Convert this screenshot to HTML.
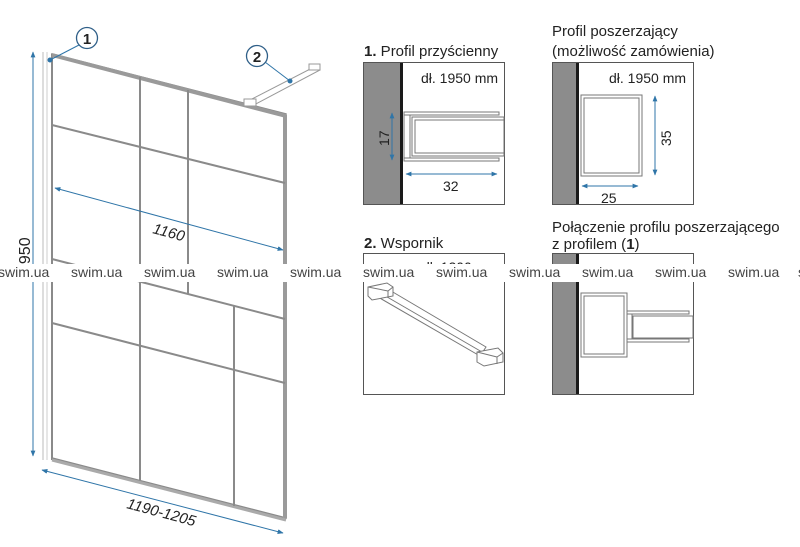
<!DOCTYPE html>
<html><head><meta charset="utf-8"><style>
html,body{margin:0;padding:0;background:#fff;}
svg{display:block;}
text{font-family:"Liberation Sans",sans-serif;}
</style></head><body>
<svg width="800" height="547" viewBox="0 0 800 547" xmlns="http://www.w3.org/2000/svg">
<defs>
<marker id="a" viewBox="0 0 10 10" refX="9" refY="5" markerWidth="6" markerHeight="6" orient="auto-start-reverse"><path d="M0,1 L10,5 L0,9 z" fill="#2f75a8"/></marker>
</defs>
<!-- main panel -->
<g fill="none" stroke="#8a8a8a">
<line x1="43" y1="52" x2="43" y2="460" stroke="#bbb" stroke-width="1"/>
<line x1="47" y1="52" x2="47" y2="460" stroke="#ccc" stroke-width="1"/>
<line x1="52" y1="54" x2="52" y2="460" stroke-width="2"/>
<polygon points="52,54 286,114 286,518 52,458" stroke-width="1.5"/>
<line x1="52" y1="55" x2="286" y2="116" stroke-width="4" stroke="#9a9a9a"/>
<line x1="285" y1="115" x2="285" y2="518" stroke-width="4" stroke="#9a9a9a"/>
<line x1="52" y1="460" x2="286" y2="520" stroke-width="3" stroke="#aaa"/>
<line x1="140" y1="77" x2="140" y2="480" stroke-width="2"/>
<line x1="188" y1="90" x2="188" y2="294" stroke-width="2"/>
<line x1="234" y1="306" x2="234" y2="506" stroke-width="2"/>
<line x1="52" y1="125" x2="285" y2="183" stroke-width="2"/>
<line x1="52" y1="259" x2="285" y2="319" stroke-width="2"/>
<line x1="52" y1="323" x2="285" y2="383" stroke-width="2"/>
<!-- bracket -->
<polygon points="248,101 316,66 320,70 252,106" stroke="#999" fill="#fff"/>
<rect x="244" y="99" width="12" height="7" stroke="#999" fill="#fff"/>
<rect x="309" y="64" width="11" height="6" stroke="#999" fill="#fff"/>
</g>
<!-- dimensions -->
<g stroke="#2f75a8" stroke-width="1" fill="none">
<line x1="33" y1="52" x2="33" y2="456" marker-start="url(#a)" marker-end="url(#a)"/>
<line x1="55" y1="188" x2="283" y2="250" marker-start="url(#a)" marker-end="url(#a)"/>
<line x1="42" y1="470" x2="283" y2="533" marker-start="url(#a)" marker-end="url(#a)"/>
<line x1="79" y1="45" x2="50" y2="60"/>
<line x1="265" y1="62" x2="290" y2="81"/>
</g>
<circle cx="50" cy="60" r="2.5" fill="#2f75a8"/>
<circle cx="290" cy="81" r="2.5" fill="#2f75a8"/>
<circle cx="87" cy="38" r="10.5" fill="#fff" stroke="#2f5f88" stroke-width="1.3"/>
<circle cx="257" cy="56" r="10.5" fill="#fff" stroke="#2f5f88" stroke-width="1.3"/>
<text x="87" y="44" font-size="15" font-weight="bold" text-anchor="middle" fill="#222">1</text>
<text x="257" y="62" font-size="15" font-weight="bold" text-anchor="middle" fill="#222">2</text>
<text x="0" y="0" font-size="15" font-style="italic" fill="#222" transform="translate(152,233) rotate(15)">1160</text>
<text x="0" y="0" font-size="15" font-style="italic" fill="#222" transform="translate(126,508) rotate(15)">1190-1205</text>
<text x="0" y="0" font-size="16" fill="#222" transform="translate(30,273) rotate(-90)">1950</text>

<!-- right panels -->
<g font-size="15" fill="#222">
<text x="364" y="56"><tspan font-weight="bold">1.</tspan> Profil przyścienny</text>
<text x="552" y="36">Profil poszerzający</text>
<text x="552" y="56">(możliwość zamówienia)</text>
<text x="364" y="248"><tspan font-weight="bold">2.</tspan> Wspornik</text>
<text x="552" y="232">Połączenie profilu poszerzającego</text>
<text x="552" y="249">z profilem (<tspan font-weight="bold">1</tspan>)</text>
</g>
<g stroke="#555" fill="#fff">
<rect x="363.5" y="62.5" width="141" height="142"/>
<rect x="552.5" y="62.5" width="141" height="142"/>
<rect x="363.5" y="253.5" width="141" height="141"/>
<rect x="552.5" y="253.5" width="141" height="141"/>
</g>
<g stroke="none">
<rect x="364" y="63" width="36" height="141" fill="#8c8c8c"/>
<rect x="400" y="63" width="3" height="141" fill="#1a1a1a"/>
<rect x="553" y="63" width="23" height="141" fill="#8c8c8c"/>
<rect x="576" y="63" width="3" height="141" fill="#1a1a1a"/>
<rect x="553" y="254" width="23" height="140" fill="#8c8c8c"/>
<rect x="576" y="254" width="3" height="140" fill="#1a1a1a"/>
</g>
<g font-size="14" fill="#222">
<text x="421" y="83">dł. 1950 mm</text>
<text x="609" y="83">dł. 1950 mm</text>
<text x="443" y="191">32</text>
<text x="601" y="203">25</text>
<text transform="translate(389,146) rotate(-90)">17</text>
<text transform="translate(671,146) rotate(-90)">35</text>
<text x="422" y="272">dł. 1200</text>
</g>
<!-- profile 1 -->
<g fill="#fff" stroke="#777" stroke-width="1">
<rect x="404" y="112" width="95" height="3"/>
<rect x="404" y="158" width="95" height="3"/>
<rect x="404" y="115" width="6" height="43"/>
<rect x="412" y="117" width="92" height="39"/>
<rect x="415" y="120" width="89" height="33"/>
</g>
<!-- profile 2 -->
<g fill="#fff" stroke="#777">
<rect x="581" y="95" width="61" height="81"/>
<rect x="584" y="98" width="55" height="75"/>
</g>
<g stroke="#2f75a8" fill="none">
<line x1="392" y1="113" x2="392" y2="160" marker-start="url(#a)" marker-end="url(#a)"/>
<line x1="406" y1="174" x2="497" y2="174" marker-start="url(#a)" marker-end="url(#a)"/>
<line x1="655" y1="96" x2="655" y2="175" marker-start="url(#a)" marker-end="url(#a)"/>
<line x1="582" y1="186" x2="638" y2="186" marker-start="url(#a)" marker-end="url(#a)"/>
</g>
<!-- bracket panel -->
<g fill="#fff" stroke="#777">
<polygon points="386,288 486,347 480,356 378,297"/>
<line x1="382" y1="294" x2="482" y2="352"/>
<polygon points="368,287 387,283 393,287 393,296 372,300 368,296"/>
<line x1="368" y1="287" x2="388" y2="291"/><line x1="388" y1="291" x2="393" y2="287"/><line x1="388" y1="291" x2="388" y2="298"/>
<polygon points="477,352 498,348 503,353 503,362 484,366 477,362"/>
<line x1="477" y1="352" x2="497" y2="357"/><line x1="497" y1="357" x2="503" y2="353"/><line x1="497" y1="357" x2="497" y2="364"/>
</g>
<!-- connection panel -->
<g fill="#fff" stroke="#777">
<rect x="581" y="293" width="46" height="64"/>
<rect x="584" y="296" width="40" height="58"/>
<rect x="627" y="311" width="62" height="3"/>
<rect x="627" y="339" width="62" height="3"/>
<rect x="627" y="314" width="5" height="25"/>
<rect x="633" y="316" width="60" height="22"/>
</g>
<!-- watermark band -->
<rect x="0" y="264" width="800" height="18" fill="#fff"/>
<g font-size="14" fill="#444">
<text x="-2" y="277">swim.ua</text>
<text x="71" y="277">swim.ua</text>
<text x="144" y="277">swim.ua</text>
<text x="217" y="277">swim.ua</text>
<text x="290" y="277">swim.ua</text>
<text x="363" y="277">swim.ua</text>
<text x="436" y="277">swim.ua</text>
<text x="509" y="277">swim.ua</text>
<text x="582" y="277">swim.ua</text>
<text x="655" y="277">swim.ua</text>
<text x="728" y="277">swim.ua</text>
<text x="798" y="277">swim.ua</text>
</g>
</svg>
</body></html>
